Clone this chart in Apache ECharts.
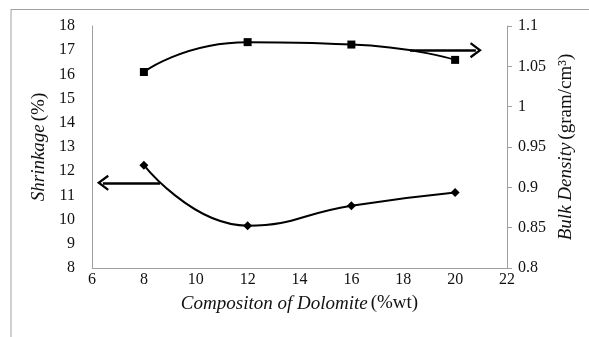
<!DOCTYPE html>
<html>
<head>
<meta charset="utf-8">
<script src="https://cdn.jsdelivr.net/npm/echarts@6/dist/echarts.min.js"></script>
<style>html,body{margin:0;padding:0;background:#fff;}#c{width:589px;height:337px;}</style>
</head>
<body>
<div id="c"></div>
<script>
const xValues = [8, 12, 16, 20];
const shrinkage = [12.25, 9.75, 10.57, 11.12];
const bulkDensity = [1.043, 1.080, 1.077, 1.058];
const leftArrow = { from: [8.62, 11.52], to: [6.42, 11.52] };
const rightArrow = { from: [18.26, 1.070], to: [20.8, 1.070] };

const chevron = 'path://M10,0 L20,13 L17.6,14.6 L10,4.6 L2.4,14.6 L0,13 Z';
const font = 'Liberation Serif';
const titleRich = {
  i: { fontStyle: 'italic', fontSize: 19, fontFamily: font, color: '#111' },
  n: { fontSize: 19, fontFamily: font, color: '#111' }
};
const chart = echarts.init(document.getElementById('c'));
chart.setOption({
  animation: false,
  backgroundColor: '#fff',
  textStyle: { fontFamily: font },
  graphic: [
    { type: 'polyline', shape: { points: [[11, 337], [11, 9.5], [589, 9.5]] }, style: { stroke: '#a0a0a0', lineWidth: 1, fill: null } }
  ],
  grid: { left: 92, right: 82, top: 26, bottom: 69 },
  xAxis: {
    type: 'value', min: 6, max: 22, interval: 2,
    axisLine: { show: true, lineStyle: { color: '#a0a0a0', width: 1 } },
    axisTick: { show: false },
    splitLine: { show: false },
    axisLabel: { color: '#111', fontSize: 16, fontFamily: font, margin: 4 },
    name: '{i|Compositon of Dolomite} {n|(%wt)}',
    nameLocation: 'middle', nameGap: 26,
    nameTextStyle: { rich: titleRich }
  },
  yAxis: [
    {
      type: 'value', min: 8, max: 18, interval: 1, position: 'left',
      axisLine: { show: true, lineStyle: { color: '#a0a0a0', width: 1 } },
      axisTick: { show: false },
      splitLine: { show: false },
      axisLabel: { color: '#111', fontSize: 16, fontFamily: font, margin: 17 },
      name: '{i|Shrinkage} {n|(%)}',
      nameLocation: 'middle', nameGap: 41, nameRotate: 90,
      nameTextStyle: { rich: titleRich }
    },
    {
      type: 'value', min: 0.8, max: 1.1, interval: 0.05, position: 'right',
      axisLine: { show: true, lineStyle: { color: '#a0a0a0', width: 1 } },
      axisTick: { show: true, length: 5, inside: false, lineStyle: { color: '#a0a0a0' } },
      splitLine: { show: false },
      axisLabel: { color: '#111', fontSize: 16, fontFamily: font, margin: 11 },
      name: '{i|Bulk Density} {n|(gram/cm³)}',
      nameLocation: 'middle', nameGap: 47, nameRotate: 90,
      nameTextStyle: { rich: titleRich }
    }
  ],
  series: [
    {
      type: 'line', yAxisIndex: 0, smooth: 0.5,
      data: xValues.map((x, i) => [x, shrinkage[i]]),
      symbol: 'diamond', symbolSize: 9,
      lineStyle: { color: '#000', width: 2 },
      itemStyle: { color: '#000' },
      markLine: {
        silent: true, animation: false,
        symbol: ['none', chevron], symbolSize: [16, 12],
        lineStyle: { color: '#000', width: 2.5, type: 'solid' },
        label: { show: false },
        data: [[{ coord: leftArrow.from }, { coord: leftArrow.to }]]
      }
    },
    {
      type: 'line', yAxisIndex: 1, smooth: 0.6,
      data: xValues.map((x, i) => [x, bulkDensity[i]]),
      symbol: 'rect', symbolSize: 8,
      lineStyle: { color: '#000', width: 2 },
      itemStyle: { color: '#000' },
      markLine: {
        silent: true, animation: false,
        symbol: ['none', chevron], symbolSize: [16, 12],
        lineStyle: { color: '#000', width: 2.5, type: 'solid' },
        label: { show: false },
        data: [[{ coord: rightArrow.from }, { coord: rightArrow.to }]]
      }
    }
  ]
});
</script>
</body>
</html>
